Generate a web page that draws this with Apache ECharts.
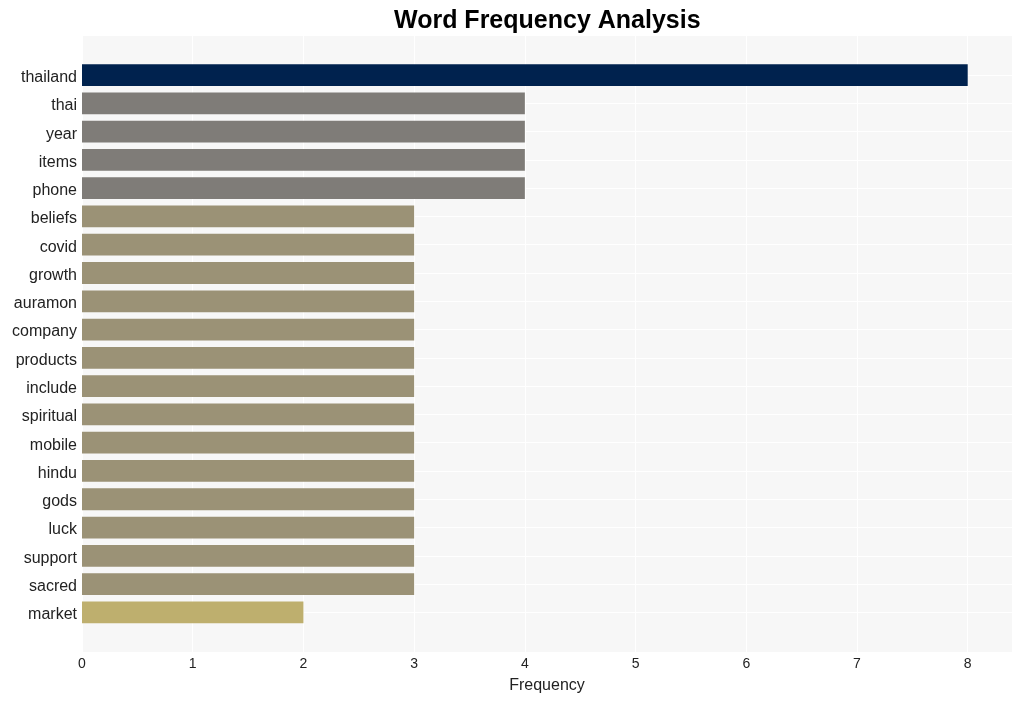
<!DOCTYPE html>
<html>
<head>
<meta charset="utf-8">
<script src="https://cdn.jsdelivr.net/npm/echarts@6/dist/echarts.min.js"></script>
<style>html,body{margin:0;padding:0;background:#fff}#c{width:1022px;height:701px}</style>
</head>
<body>
<div id="c"></div>
<script>
const words = ['thailand','thai','year','items','phone','beliefs','covid','growth','auramon','company','products','include','spiritual','mobile','hindu','gods','luck','support','sacred','market'];
const counts = [8,4,4,4,4,3,3,3,3,3,3,3,3,3,3,3,3,3,3,2];
const xTicks = [0,1,2,3,4,5,6,7,8];
const colorByCount = {8:'#00224e', 4:'#7f7c78', 3:'#9b9276', 2:'#beaf6e'};

const L = 82, W = 930;
const chart = echarts.init(document.getElementById('c'));
const font = 'Liberation Sans, Arial, sans-serif';
chart.setOption({
  animation: false,
  title: {text: 'Word Frequency Analysis', left: 389, top: 4,
    textStyle: {fontSize: 25, fontWeight: 'bold', color: '#000', fontFamily: font}},
  grid: [
    {left: L, width: W, top: 36, height: 616, show: true, backgroundColor: '#f7f7f7', borderWidth: 0},
    {left: L, width: W, top: 60.9, height: 565.6},
    {left: L, width: W, top: 75, height: 537.4}
  ],
  xAxis: [
    {gridIndex: 0, type: 'value', min: 0, max: 8.4, interval: 1,
     name: 'Frequency', nameLocation: 'middle', nameGap: 26,
     nameTextStyle: {fontSize: 16, color: '#222', fontFamily: font},
     axisLine: {show: false}, axisTick: {show: false},
     axisLabel: {fontSize: 14, color: '#222', margin: 5, fontFamily: font,
       formatter: v => xTicks.indexOf(v) >= 0 ? String(v) : ''},
     splitLine: {show: true, lineStyle: {color: '#ffffff', width: 1}}},
    {gridIndex: 1, type: 'value', min: 0, max: 8.4, show: false, splitLine: {show: false}},
    {gridIndex: 2, type: 'value', min: 0, max: 8.4, show: false, splitLine: {show: false}}
  ],
  yAxis: [
    {gridIndex: 0, type: 'value', show: false, splitLine: {show: false}},
    {gridIndex: 1, type: 'category', data: words, inverse: true,
     axisLine: {show: false}, axisTick: {show: false}, splitLine: {show: false},
     axisLabel: {margin: 5, formatter: v => '{a|' + v + '}',
       rich: {a: {fontSize: 16, color: '#222', fontFamily: font, padding: [5, 0, 0, 0]}}}},
    {gridIndex: 2, type: 'value', min: 0, max: 19, interval: 1, inverse: true,
     axisLine: {show: false}, axisTick: {show: false}, axisLabel: {show: false},
     splitLine: {show: true, lineStyle: {color: '#ffffff', width: 1}}}
  ],
  series: [{
    type: 'bar', xAxisIndex: 1, yAxisIndex: 1,
    barCategoryGap: '23%',
    data: counts.map(v => ({value: v, itemStyle: {color: colorByCount[v]}}))
  }]
});
</script>
</body>
</html>
